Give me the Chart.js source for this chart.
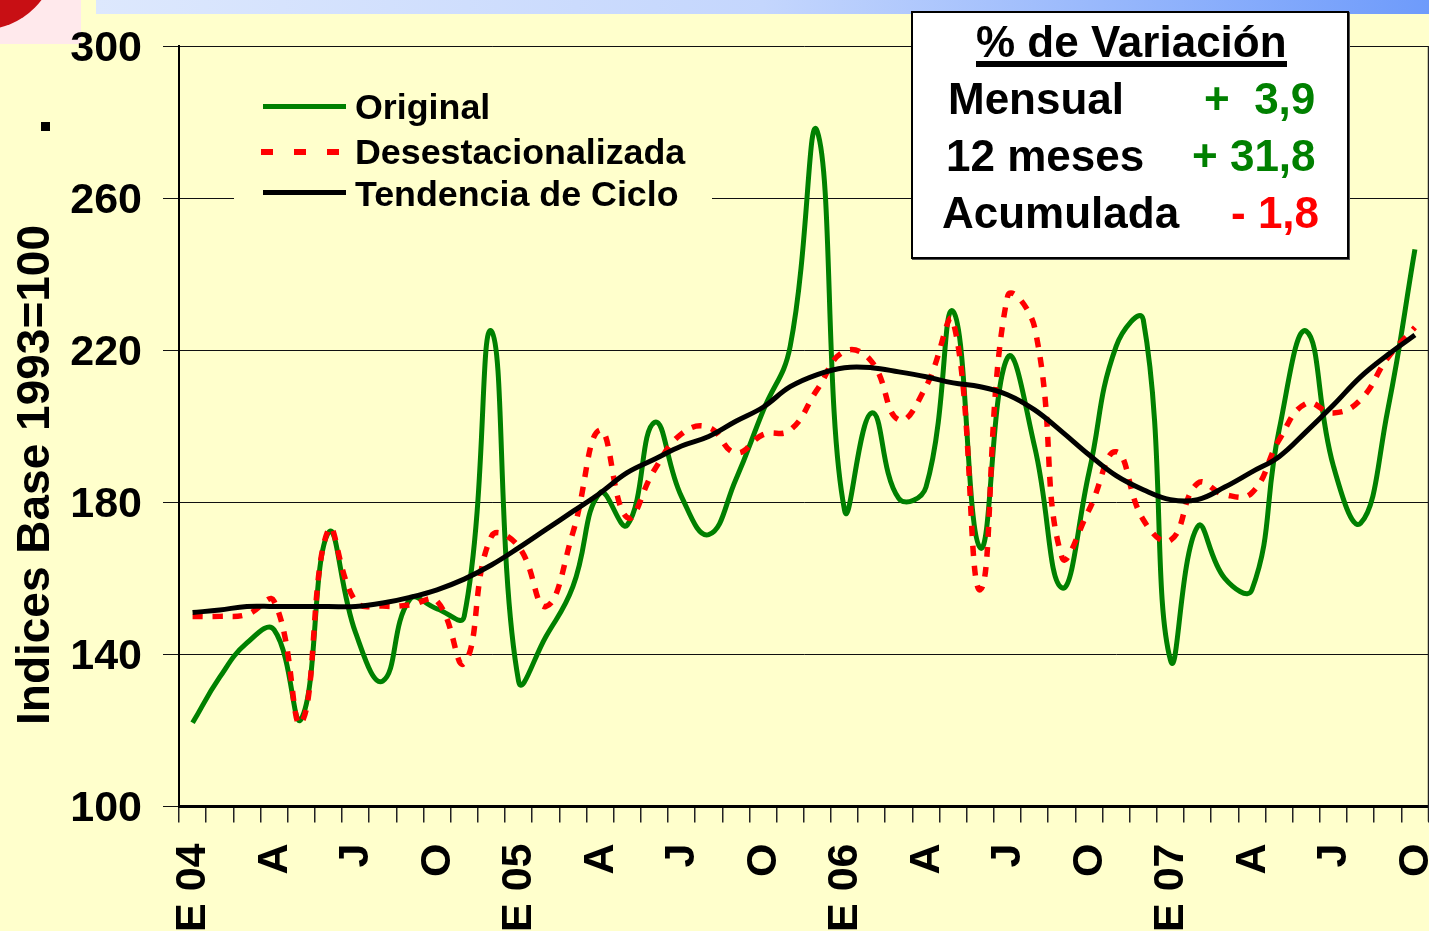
<!DOCTYPE html>
<html><head><meta charset="utf-8">
<style>
html,body{margin:0;padding:0;background:#FFFFCC;overflow:hidden;width:1429px;height:931px}
#wrap{position:absolute;left:0;top:0;width:1429px;height:931px;overflow:hidden;font-family:"Liberation Sans",Arial,sans-serif;font-weight:bold;color:#000}
canvas{position:absolute;left:0;top:0}
.abs{position:absolute;white-space:nowrap}
#banner{left:96px;top:0;width:1333px;height:14px;background:linear-gradient(90deg,#dde8fd 0%,#c4d6fd 50%,#6e9bfb 100%)}
#seal{left:0;top:0;width:81px;height:44px;background:#ffe9ec;overflow:hidden}
#seal i{position:absolute;left:-95px;top:-122px;width:152px;height:152px;border-radius:50%;background:#c80f14;display:block}
#legend{left:234px;top:88px;width:478px;height:125px;background:#FFFFCC}
.lg{font-size:35.8px;line-height:40px}
.sw{position:absolute;height:5px}
#box{left:911px;top:11px;width:434px;height:244px;background:#fff;border:2px solid #000;box-shadow:1px 1px 0 #555}
.t{font-size:44px;line-height:50px}
</style></head><body>
<div id="wrap">
<div id="banner" class="abs"></div>
<div id="seal" class="abs"><i></i></div>
<canvas id="c" width="1432" height="940"></canvas>
<div class="abs" style="left:41px;top:122px;width:9px;height:9px;background:#000"></div>
<div class="abs" id="ytitle" style="left:33px;top:475px;font-size:46px;line-height:50px;transform:translate(-50%,-50%) rotate(-90deg)">Indices Base 1993=100</div>
<div id="legend" class="abs"></div>
<div class="sw" style="left:263px;top:104px;width:83px;background:#008000"></div>
<div class="sw" style="left:261px;top:149px;width:12px;height:6px;background:#f00"></div>
<div class="sw" style="left:294px;top:149px;width:12px;height:6px;background:#f00"></div>
<div class="sw" style="left:327px;top:149px;width:12px;height:6px;background:#f00"></div>
<div class="sw" style="left:263px;top:190px;width:83px;background:#000"></div>
<div class="abs lg" style="left:355px;top:87px">Original</div>
<div class="abs lg" style="left:355px;top:132px">Desestacionalizada</div>
<div class="abs lg" style="left:355px;top:174px">Tendencia de Ciclo</div>
<div id="box" class="abs"></div>
<div class="abs t" style="left:976px;top:17px;border-bottom:6px solid #000;height:44px">% de Variación</div>
<div class="abs t" style="left:948px;top:74px">Mensual</div>
<div class="abs t" style="left:1204px;top:74px;color:#008000;white-space:pre">+  3,9</div>
<div class="abs t" style="left:946px;top:131px">12 meses</div>
<div class="abs t" style="left:1192px;top:131px;color:#008000">+ 31,8</div>
<div class="abs t" style="left:942px;top:188px">Acumulada</div>
<div class="abs t" style="left:1231px;top:188px;color:#f00">- 1,8</div>
</div>
<script src="https://cdn.jsdelivr.net/npm/chart.js@4/dist/chart.umd.min.js"></script>
<script>
const categories = ['E 04','','','A','','','J','','','O','','',
  'E 05','','','A','','','J','','','O','','',
  'E 06','','','A','','','J','','','O','','',
  'E 07','','','A','','','J','','','O'];
const original = [122,134,143,146.5,123,172,145.7,133,154.5,152,150,225,
  133,144.6,157.8,182.5,174,201,181.5,171.5,186,204,221,277.5,
  178,203.5,181,184,230.2,168,218,194.6,157.5,187.8,221,228,
  138.5,173.6,160,157,199,225,189.5,174.5,204.3,246.5];
const desestacionalizada = [150,150,150.5,154,122,172.8,154,152.7,153,154,137.7,171,
  168.4,152.6,172,199,176,188.5,198,199.7,193,197.8,199,209.7,
  219.7,217,201.7,210.4,227.5,157,234,226,165.7,178,193.3,175.4,
  170,185,182,182.5,196.4,206,203.5,207,218,226];
const tendencia = [151,151.7,152.6,152.6,152.6,152.6,152.6,153.5,155,157,159.8,163.5,
  168,172.8,177.6,182.4,187.8,191.3,194.8,197.3,201.3,205,210.4,213.6,
  215.4,215.4,214.3,213,211.4,210.4,208.3,204.3,198.6,192.5,187,183.3,
  180.7,180.7,184,188,192,198.6,205.6,213,218.8,224];
const yTicks = [100,140,180,220,260,300];
const FONT = '"Liberation Sans", Arial, sans-serif';

const frame = {
  id:'frame',
  beforeDatasetsDraw(ch){
    const a = ch.chartArea, g = ch.ctx;
    g.save(); g.strokeStyle='#222'; g.lineWidth=1.5;
    g.beginPath(); g.moveTo(a.right,a.top); g.lineTo(a.right,a.bottom+15); g.stroke();
    g.restore();
  }
};
new Chart(document.getElementById('c'),{
  type:'line',
  data:{labels:categories,datasets:[
    {label:'Original',order:3,data:original,borderColor:'#008000',borderWidth:5,tension:0.45,pointRadius:0,fill:false},
    {label:'Desestacionalizada',order:2,data:desestacionalizada,borderColor:'#FF0000',borderWidth:5.5,borderDash:[10,10],tension:0.45,pointRadius:0,fill:false},
    {label:'Tendencia de Ciclo',order:1,data:tendencia,borderColor:'#000000',borderWidth:5,tension:0.4,pointRadius:0,fill:false}
  ]},
  options:{
    responsive:false,animation:false,
    layout:{padding:{left:0,right:3.5,top:46,bottom:0}},
    plugins:{legend:{display:false},title:{display:false},tooltip:{enabled:false}},
    scales:{
      x:{
        offset:true,
        grid:{offset:true,drawOnChartArea:false,drawTicks:true,tickLength:16,color:'#222',lineWidth:1.5},
        border:{color:'#000',width:3},
        ticks:{autoSkip:false,maxRotation:90,minRotation:90,padding:21,labelOffset:1,color:'#000',font:{family:FONT,weight:'bold',size:43}},
        afterFit(s){s.height=133.5;s.paddingLeft=0;s.paddingRight=0;}
      },
      y:{
        min:100,max:300,
        afterBuildTicks(s){s.ticks=yTicks.map(v=>({value:v}));},
        grid:{color:'#111',lineWidth:1,tickLength:16,drawTicks:true},
        border:{color:'#000',width:2},
        ticks:{padding:21,labelOffset:3,color:'#000',font:{family:FONT,weight:'bold',size:43}},
        afterFit(s){s.width=179;s.paddingTop=0;s.paddingBottom=0;}
      }
    }
  },
  plugins:[frame]
});
</script>
</body></html>
